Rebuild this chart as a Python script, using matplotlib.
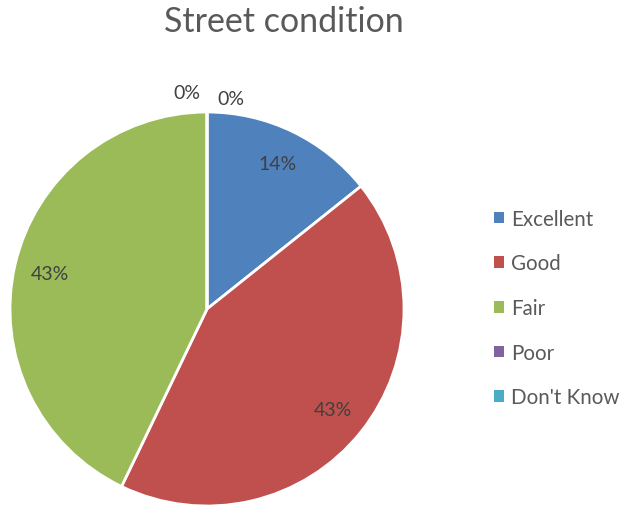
import numpy as np
import matplotlib.pyplot as plt
from matplotlib.patches import Patch

categories = ["Excellent", "Good", "Fair", "Poor", "Don't Know"]
values = [1, 3, 3, 0, 0]
colors = ["#4F81BD", "#C0504D", "#9BBB59", "#8064A2", "#4BACC6"]

plt.rcParams['font.family'] = ['Lato', 'DejaVu Sans']
text_color = "#595959"

fig = plt.figure(figsize=(6.31, 5.06), dpi=100)
ax = fig.add_axes([10 / 631, -1 / 506, 394 / 631, 394 / 506])

total = sum(values)
wedges, _ = ax.pie(values, colors=colors, startangle=90, counterclock=False,
                   radius=1, wedgeprops=dict(edgecolor="white", linewidth=2))
ax.set_xlim(-1, 1)
ax.set_ylim(-1, 1)
ax.set_aspect('equal')

# percentage labels, computed from wedge angles
zero_shift = [0.12, -0.10]
zi = 0
for w, v in zip(wedges, values):
    pct = f"{round(100 * v / total):.0f}%"
    mid = np.deg2rad((w.theta1 + w.theta2) / 2)
    if v > 0:
        r = 0.82
        ax.text(r * np.cos(mid), r * np.sin(mid), pct, ha='center', va='center',
                fontsize=14, color="#404040")
    else:
        if zi < len(zero_shift):
            ax.text(1.07 * np.cos(mid) + zero_shift[zi], 1.07 * np.sin(mid) + (0.0 if zi == 0 else 0.03),
                    pct, ha='center', va='center', fontsize=14, color="#404040")
        zi += 1

fig.text(284 / 631, 1 - 22 / 506, "Street condition", ha='center', va='center',
         fontsize=24.5, color=text_color)

handles = [Patch(facecolor=c, edgecolor='none') for c in colors]
leg = fig.legend(handles, categories, loc='center left',
                 bbox_to_anchor=(475 / 631, 1 - 309 / 506), frameon=False,
                 fontsize=14.8, labelspacing=1.2, handlelength=0.5, handleheight=0.5,
                 handletextpad=0.35, labelcolor=text_color)

fig.savefig("out.png", dpi=100)
